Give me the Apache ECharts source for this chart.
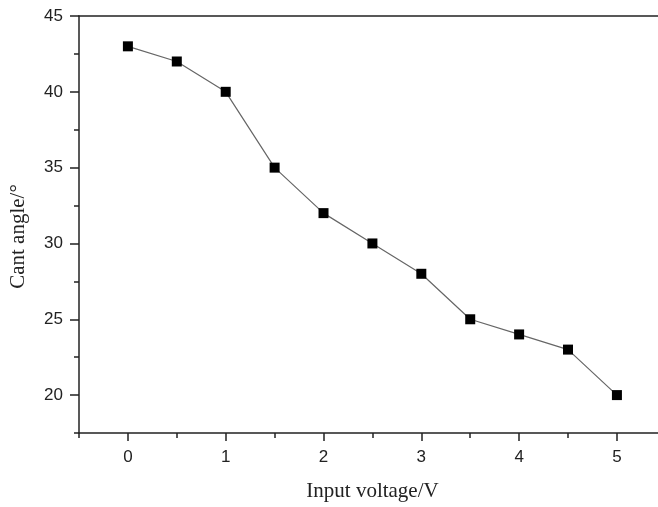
<!DOCTYPE html>
<html>
<head>
<meta charset="utf-8">
<script src="https://cdn.jsdelivr.net/npm/echarts@6/dist/echarts.min.js"></script>
<style>
  html, body { margin: 0; padding: 0; background: #fff; }
  #chart { width: 658px; height: 507px; }
</style>
</head>
<body>
<div id="chart"></div>
<script>
// Input voltage (V) and measured cant angle (degrees)
const voltage = [0, 0.5, 1, 1.5, 2, 2.5, 3, 3.5, 4, 4.5, 5];
const cantAngle = [43, 42, 40, 35, 32, 30, 28, 25, 24, 23, 20];

// Tick positions
const xMajorTicks = [0, 1, 2, 3, 4, 5];
const xMinorTicks = [-0.5, 0.5, 1.5, 2.5, 3.5, 4.5];
const yMajorTicks = [20, 25, 30, 35, 40, 45];
const yMinorTicks = [17.5, 22.5, 27.5, 32.5, 37.5, 42.5];

// Axis ranges (the x range runs slightly past the right edge of the canvas)
const xMin = -0.5, xMax = 5.42;
const yMin = 17.5, yMax = 45;

const chart = echarts.init(document.getElementById('chart'), null, { renderer: 'canvas' });

const axisColor = '#222';
const lineW = 1.5;
const labelFont = { fontFamily: 'Liberation Sans, Arial, sans-serif', fontSize: 17, color: '#222' };
const nameFont = { fontFamily: 'Liberation Serif, Times New Roman, serif', fontSize: 21, color: '#222' };

chart.setOption({
  animation: false,
  backgroundColor: '#fff',
  grid: { left: 78, top: 16, right: 0, bottom: 70, containLabel: false },
  xAxis: [
    {
      type: 'value', min: xMin, max: xMax,
      name: 'Input voltage/V', nameLocation: 'middle', nameGap: 48,
      nameTextStyle: Object.assign({ padding: [0, 0, 0, 8] }, nameFont),
      axisLine: { show: true, onZero: false, lineStyle: { color: axisColor, width: lineW } },
      axisTick: { show: true, customValues: xMajorTicks, length: 8, lineStyle: { color: axisColor, width: lineW } },
      axisLabel: Object.assign({ customValues: xMajorTicks, margin: 16 }, labelFont),
      splitLine: { show: false }
    },
    {
      type: 'value', min: xMin, max: xMax, position: 'bottom',
      axisLine: { show: false, onZero: false },
      axisTick: { show: true, customValues: xMinorTicks, length: 5, lineStyle: { color: axisColor, width: lineW } },
      axisLabel: { show: false },
      splitLine: { show: false }
    },
    {
      // top frame line
      type: 'value', min: xMin, max: xMax, position: 'top',
      axisLine: { show: true, onZero: false, lineStyle: { color: axisColor, width: lineW } },
      axisTick: { show: false },
      axisLabel: { show: false },
      splitLine: { show: false }
    }
  ],
  yAxis: [
    {
      type: 'value', min: yMin, max: yMax,
      name: 'Cant angle/°', nameLocation: 'middle', nameGap: 50, nameRotate: 90,
      nameTextStyle: Object.assign({ padding: [0, 24, 0, 0] }, nameFont),
      axisLine: { show: true, onZero: false, lineStyle: { color: axisColor, width: lineW } },
      axisTick: { show: true, customValues: yMajorTicks, length: 9, lineStyle: { color: axisColor, width: lineW } },
      axisLabel: Object.assign({ customValues: yMajorTicks, margin: 16 }, labelFont),
      splitLine: { show: false }
    },
    {
      type: 'value', min: yMin, max: yMax, position: 'left',
      axisLine: { show: false, onZero: false },
      axisTick: { show: true, customValues: yMinorTicks, length: 5, lineStyle: { color: axisColor, width: lineW } },
      axisLabel: { show: false },
      splitLine: { show: false }
    }
  ],
  series: [
    {
      type: 'line',
      xAxisIndex: 0, yAxisIndex: 0,
      data: voltage.map((v, i) => [v, cantAngle[i]]),
      symbol: 'rect', symbolSize: 10,
      itemStyle: { color: '#000' },
      lineStyle: { color: '#666', width: 1.2 }
    }
  ]
});
</script>
</body>
</html>
